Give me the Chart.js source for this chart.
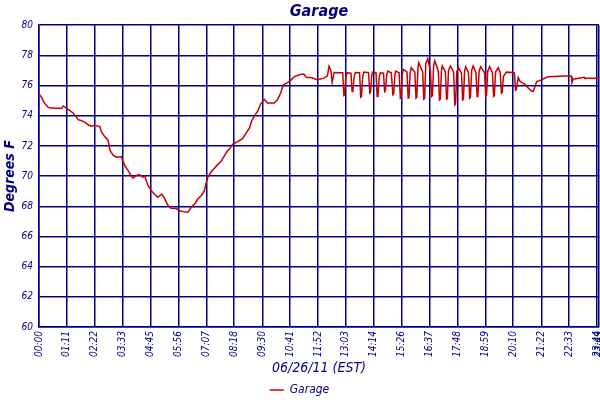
<!DOCTYPE html>
<html>
<head>
<meta charset="utf-8">
<script src="https://cdn.jsdelivr.net/npm/chart.js@4.4.1/dist/chart.umd.min.js"></script>
<style>
  html, body { margin: 0; background: #fff; }
</style>
</head>
<body>
<canvas id="chart" width="600" height="400"></canvas>
<script>
// ─── Data (minutes after midnight, degrees F) ───────────────────────────────
const times = [
    0, 7, 11, 15, 24, 41, 58, 62, 70, 79, 87, 94, 100, 109, 117, 125, 134, 142, 155, 159,
    168, 176, 181, 189, 198, 210, 214, 221, 227, 236, 240, 248, 257, 265, 270, 278, 287, 295, 303, 313,
    320, 325, 329, 337, 350, 359, 371, 380, 388, 397, 405, 414, 422, 426, 431, 439, 448, 456, 465, 473,
    481, 486, 494, 507, 520, 528, 537, 542, 549, 558, 566, 575, 583, 600, 609, 617, 623, 634, 643, 651,
    664, 676, 682, 694, 710, 727, 736, 740, 745, 748, 753, 775,
    778, 780, 783, 786, 796,
    799, 801, 804, 807, 818,
    821, 823, 826, 829, 841,
    844, 846, 849, 851, 860,
    863, 865, 868, 871, 879,
    882, 884, 887, 890, 899,
    903, 905, 908, 910, 919,
    922, 924, 927, 930, 939,
    942, 944, 947, 950, 959,
    962, 964, 967, 969, 979,
    982, 984, 987, 992, 999,
    1002, 1004, 1007, 1010, 1019,
    1022, 1024, 1027, 1029, 1037,
    1040, 1042, 1045, 1050, 1058,
    1061, 1063, 1066, 1070, 1078,
    1081, 1083, 1086, 1089, 1096,
    1099, 1101, 1104, 1108, 1115,
    1118, 1120, 1123, 1127, 1137,
    1140, 1142, 1145, 1150, 1157,
    1160, 1162, 1165, 1172, 1177,
    1180, 1182, 1185, 1193, 1213,
    1216, 1218, 1223, 1227, 1232, 1240, 1249, 1257, 1261, 1266, 1270, 1282, 1299, 1342, 1358, 1360,
    1363, 1391, 1393, 1429
];

const temps = [
    75.45, 75.2, 74.97, 74.8, 74.55, 74.5, 74.5, 74.65, 74.5, 74.34, 74.18, 73.96, 73.74, 73.67, 73.58, 73.4, 73.3, 73.36, 73.3, 72.95,
    72.6, 72.4, 71.72, 71.39, 71.25, 71.28, 70.99, 70.6, 70.38, 70.0, 69.87, 70.05, 70.09, 69.93, 70.0, 69.38, 69.02, 68.8, 68.6, 68.81,
    68.55, 68.26, 68.07, 67.87, 67.85, 67.7, 67.63, 67.6, 67.92, 68.14, 68.48, 68.7, 69.04, 69.48, 69.93, 70.27, 70.54, 70.76, 70.99, 71.34,
    71.68, 71.79, 72.1, 72.28, 72.5, 72.84, 73.17, 73.62, 73.96, 74.3, 74.79, 75.08, 74.85, 74.85, 75.08, 75.52, 76.04, 76.2, 76.36, 76.58,
    76.71, 76.76, 76.53, 76.53, 76.38, 76.49, 76.64, 77.27, 76.98, 76.2, 76.87, 76.85,
    75.35, 75.4, 76.55, 76.85, 76.82,
    75.6, 75.65, 76.55, 76.87, 76.85,
    75.23, 75.28, 76.6, 76.89, 76.85,
    75.5, 75.55, 76.6, 76.89, 76.85,
    75.28, 75.33, 76.55, 76.85, 76.82,
    75.6, 75.65, 76.65, 76.96, 76.85,
    75.39, 75.44, 76.65, 76.96, 76.85,
    75.17, 75.22, 76.75, 77.07, 76.9,
    75.17, 75.22, 76.85, 77.18, 76.9,
    75.17, 75.22, 77.2, 77.52, 76.9,
    75.1, 75.15, 77.45, 77.79, 76.95,
    75.28, 75.33, 77.3, 77.63, 76.95,
    75.05, 75.1, 77.0, 77.3, 76.9,
    75.1, 75.15, 77.0, 77.3, 76.9,
    74.72, 74.78, 76.9, 77.18, 76.85,
    75.05, 75.1, 76.95, 77.25, 76.85,
    75.17, 75.22, 77.0, 77.3, 76.85,
    75.28, 75.33, 76.95, 77.25, 76.85,
    75.28, 75.33, 76.95, 77.25, 76.85,
    75.28, 75.33, 76.9, 77.18, 76.85,
    75.5, 75.55, 76.6, 76.89, 76.85,
    75.7, 75.75, 76.53, 76.3, 76.2, 76.09, 75.82, 75.64, 75.6, 75.97, 76.26, 76.38, 76.58, 76.64, 76.64, 76.2,
    76.42, 76.55, 76.49, 76.49
];

// x tick positions (minutes) and their labels as printed on the chart
const xTickMinutes = [0, 71, 142, 214, 285, 356, 427, 498, 570, 641, 712, 783, 854, 926, 997, 1068, 1139, 1210, 1282, 1353, 1424, 1429];
const xTickLabels = ['00:00', '01:11', '02:22', '03:33', '04:45', '05:56', '07:07', '08:18', '09:30', '10:41', '11:52',
                     '13:03', '14:14', '15:26', '16:37', '17:48', '18:59', '20:10', '21:22', '22:33', '23:44', '23:49'];

// ─── Styling ────────────────────────────────────────────────────────────────
const NAVY = '#000080';
const RED = '#c80000';
const FONT = "'DejaVu Sans Condensed', 'DejaVu Sans', sans-serif";

const ctx = document.getElementById('chart').getContext('2d');

new Chart(ctx, {
    type: 'line',
    data: {
        datasets: [{
            label: 'Garage',
            data: times.map((t, i) => ({ x: t, y: temps[i] })),
            borderColor: RED,
            backgroundColor: RED,
            borderWidth: 1.5,
            pointRadius: 0,
            tension: 0,
            fill: false
        }]
    },
    options: {
        responsive: false,
        animation: false,
        devicePixelRatio: 1,
        layout: { padding: { top: 0, right: 1, bottom: -6, left: 0 } },
        plugins: {
            title: {
                display: true,
                text: 'Garage',
                color: NAVY,
                fullSize: false,
                font: { family: FONT, size: 16, weight: 'bold', style: 'italic' },
                padding: { top: 2, bottom: 4 }
            },
            legend: {
                position: 'bottom',
                labels: {
                    color: NAVY,
                    font: { family: FONT, size: 12, style: 'italic' },
                    usePointStyle: true,
                    pointStyle: 'line',
                    pointStyleWidth: 14,
                    padding: 6
                }
            },
            tooltip: { enabled: false }
        },
        scales: {
            x: {
                type: 'linear',
                min: 0,
                max: 1429,
                afterBuildTicks: (scale) => {
                    scale.ticks = xTickMinutes.map(v => ({ value: v }));
                },
                afterFit: (scale) => {
                    scale.height = 51;
                    scale.paddingLeft = 0;
                    scale.paddingRight = 0;
                },
                ticks: {
                    autoSkip: false,
                    minRotation: 90,
                    maxRotation: 90,
                    padding: 4,
                    color: NAVY,
                    font: { family: FONT, size: 10, style: 'italic' },
                    callback: (value, index) => xTickLabels[index]
                },
                grid: { color: NAVY, lineWidth: 1.5, drawTicks: false },
                border: { color: NAVY, width: 1.5 },
                title: {
                    display: true,
                    text: '06/26/11 (EST)',
                    color: NAVY,
                    font: { family: FONT, size: 14, style: 'italic' },
                    padding: { top: 0, bottom: 1 }
                }
            },
            y: {
                min: 60,
                max: 80,
                afterFit: (scale) => {
                    scale.width = 39;
                },
                ticks: {
                    stepSize: 2,
                    padding: 6,
                    color: NAVY,
                    font: { family: FONT, size: 10, style: 'italic' }
                },
                grid: { color: NAVY, lineWidth: 1.5, drawTicks: false },
                border: { color: NAVY, width: 1.5 },
                title: {
                    display: true,
                    text: 'Degrees F',
                    color: NAVY,
                    font: { family: FONT, size: 14, weight: 'bold', style: 'italic' },
                    padding: { top: 2, bottom: 0 }
                }
            }
        }
    }
});
</script>
</body>
</html>
